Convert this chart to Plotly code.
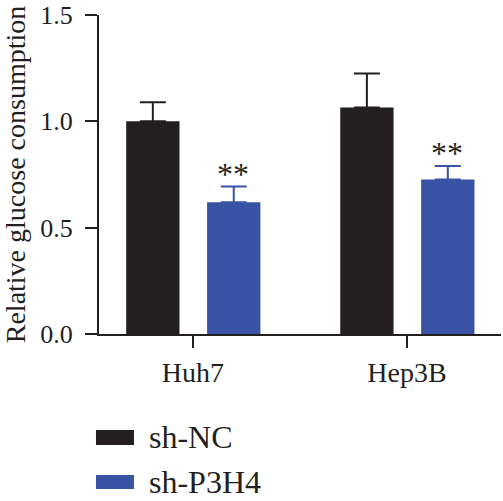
import plotly.graph_objects as go

categories = ["Huh7", "Hep3B"]
groups = ["sh-NC", "sh-P3H4"]
nc_values = [1.00, 1.065]
nc_errors = [0.09, 0.16]
p3h4_values = [0.62, 0.727]
p3h4_errors = [0.073, 0.063]
significance = ["**", "**"]
y_ticks = [0.0, 0.5, 1.0, 1.5]

C_BLACK = "#231f20"
C_BLUE = "#3953a4"
FONT = "Liberation Serif"

fig = go.Figure()
fig.add_trace(go.Bar(
    x=categories, y=nc_values, name=groups[0], marker_color=C_BLACK,
    width=0.249, offset=-0.312, marker_line_width=0,
    error_y=dict(type="data", array=nc_errors, arrayminus=[0] * len(nc_errors),
                 color=C_BLACK, thickness=2, width=13),
    showlegend=False,
))
fig.add_trace(go.Bar(
    x=categories, y=p3h4_values, name=groups[1], marker_color=C_BLUE,
    width=0.249, offset=0.066, marker_line_width=0,
    error_y=dict(type="data", array=p3h4_errors, arrayminus=[0] * len(p3h4_errors),
                 color=C_BLUE, thickness=2, width=13),
    showlegend=False,
))

for cat, v, e, s in zip(categories, p3h4_values, p3h4_errors, significance):
    fig.add_annotation(x=cat, y=v + e, text=s, showarrow=False, xshift=40,
                       yanchor="bottom", yshift=-7,
                       font=dict(family=FONT, size=32, color=C_BLACK))

# manual legend
legend_items = [(groups[0], C_BLACK, -0.301, -0.348, -0.323),
                (groups[1], C_BLUE, -0.442, -0.486, -0.464)]
for name, col, y1, y0, yt in legend_items:
    fig.add_shape(type="rect", xref="paper", yref="paper", x0=-0.0075, x1=0.087,
                  y0=y0, y1=y1, fillcolor=col, line_width=0)
    fig.add_annotation(xref="paper", yref="paper", x=0.119, y=yt, text=name,
                       showarrow=False, xanchor="left", yanchor="middle",
                       font=dict(family=FONT, size=32, color=C_BLACK))

fig.update_layout(
    width=503, height=501,
    margin=dict(l=99, r=2, t=15, b=167),
    paper_bgcolor="white", plot_bgcolor="white",
    barmode="overlay",
    font=dict(family=FONT, color=C_BLACK),
)
fig.update_xaxes(
    type="category", range=[-0.439, 1.439],
    showline=True, linecolor=C_BLACK, linewidth=2,
    ticks="outside", ticklen=12, tickwidth=2, tickcolor=C_BLACK,
    tickfont=dict(family=FONT, size=28, color=C_BLACK),
    showgrid=False, zeroline=False,
)
fig.update_yaxes(
    range=[0, 1.5], tickvals=y_ticks, tickformat=".1f",
    showline=True, linecolor=C_BLACK, linewidth=2,
    ticks="outside", ticklen=12, tickwidth=2, tickcolor=C_BLACK,
    ticklabelstandoff=7,
    tickfont=dict(family=FONT, size=26, color=C_BLACK),
    showgrid=False, zeroline=False,
    title=dict(text="Relative glucose consumption", standoff=10,
               font=dict(family=FONT, size=28, color=C_BLACK)),
)

fig.write_html("out.html")
